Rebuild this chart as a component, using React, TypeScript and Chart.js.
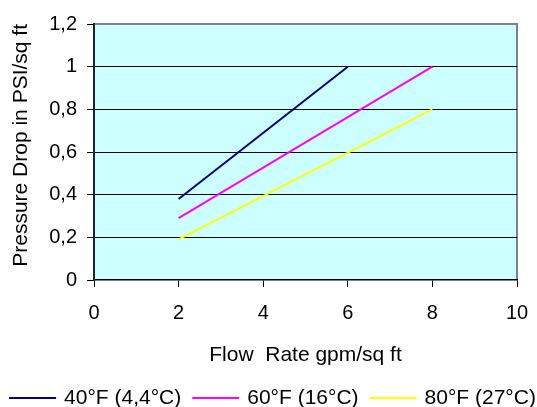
import React, { useEffect, useRef } from "react";
import { Chart, registerables } from "chart.js";

Chart.register(...registerables);

const seriesLabels = ["40°F (4,4°C)", "60°F (16°C)", "80°F (27°C)"];
const seriesColors = ["#000080", "#FF00FF", "#FFFF00"];
const flow40 = [2, 6];
const drop40 = [0.38, 1.0];
const flow60 = [2, 8];
const drop60 = [0.29, 1.0];
const flow80 = [2, 8];
const drop80 = [0.19, 0.8];
const yTickLabels = ["0", "0,2", "0,4", "0,6", "0,8", "1", "1,2"];
const xTickLabels = ["0", "2", "4", "6", "8", "10"];

const FONT = "'Liberation Sans', Arial, sans-serif";

export default function App() {
  const ref = useRef<HTMLCanvasElement | null>(null);

  useEffect(() => {
    if (!ref.current) return;
    const flows = [flow40, flow60, flow80];
    const drops = [drop40, drop60, drop80];

    const plotBg = {
      id: "plotBg",
      beforeDraw(chart: any) {
        const { ctx, chartArea: a } = chart;
        ctx.save();
        ctx.fillStyle = "#CCFFFF";
        ctx.fillRect(a.left, a.top, a.right - a.left, a.bottom - a.top);
        ctx.strokeStyle = "#808080";
        ctx.lineWidth = 2;
        ctx.beginPath();
        ctx.moveTo(a.left, a.top);
        ctx.lineTo(a.right, a.top);
        ctx.lineTo(a.right, a.bottom);
        ctx.stroke();
        ctx.restore();
      },
    };

    const bottomLegend = {
      id: "bottomLegend",
      afterDraw(chart: any) {
        const { ctx } = chart;
        const lineLen = 47;
        const textGap = 8;
        const itemGap = 11;
        const cy = 398;
        ctx.save();
        ctx.font = `21px ${FONT}`;
        ctx.textBaseline = "middle";
        ctx.textAlign = "left";
        const items = chart.data.datasets.map((ds: any) => ({
          text: ds.label,
          color: ds.borderColor,
          w: ctx.measureText(ds.label).width,
        }));
        const total =
          items.reduce((s: number, it: any) => s + lineLen + textGap + it.w, 0) +
          itemGap * (items.length - 1);
        let x = (chart.width - total) / 2 + 4;
        items.forEach((it: any) => {
          ctx.strokeStyle = it.color;
          ctx.lineWidth = 2;
          ctx.beginPath();
          ctx.moveTo(x, cy);
          ctx.lineTo(x + lineLen, cy);
          ctx.stroke();
          ctx.fillStyle = "#000";
          ctx.fillText(it.text, x + lineLen + textGap, cy);
          x += lineLen + textGap + it.w + itemGap;
        });
        ctx.restore();
      },
    };

    const chart = new Chart(ref.current, {
      type: "line",
      data: {
        datasets: seriesLabels.map((label, i) => ({
          label,
          data: flows[i].map((x, j) => ({ x, y: drops[i][j] })),
          borderColor: seriesColors[i],
          backgroundColor: seriesColors[i],
          borderWidth: 2,
          pointRadius: 0,
          fill: false,
          tension: 0,
        })),
      },
      options: {
        animation: false,
        responsive: false,
        events: [],
        layout: { padding: { left: 0, top: 24, right: 20, bottom: 29 } },
        plugins: {
          tooltip: { enabled: false },
          legend: { display: false },
        },
        scales: {
          x: {
            type: "linear",
            min: 0,
            max: 10,
            ticks: {
              stepSize: 2,
              color: "#000",
              font: { family: FONT, size: 20 },
              padding: 14,
              maxRotation: 0,
              callback: (_v: any, i: number) => xTickLabels[i],
            },
            grid: {
              drawOnChartArea: false,
              drawTicks: true,
              tickLength: 7,
              tickColor: "#000",
            },
            border: { display: true, color: "#000", width: 1.5 },
            title: {
              display: true,
              text: "Flow  Rate gpm/sq ft",
              color: "#000",
              font: { family: FONT, size: 21 },
              padding: { top: 0, bottom: 10 },
            },
            afterFit: (s: any) => {
              s.height = 98;
              s.paddingLeft = 12;
              s.paddingRight = 12;
            },
          },
          y: {
            type: "linear",
            min: 0,
            max: 1.2,
            ticks: {
              stepSize: 0.2,
              color: "#000",
              font: { family: FONT, size: 20 },
              padding: 10,
              callback: (_v: any, i: number) => yTickLabels[i],
            },
            grid: {
              color: (c: any) =>
                c.index === 0 || c.index === yTickLabels.length - 1 ? "rgba(0,0,0,0)" : "#000",
              lineWidth: 1,
              drawTicks: true,
              tickLength: 7,
              tickColor: "#000",
            },
            border: { display: true, color: "#222", width: 2 },
            title: {
              display: true,
              text: "Pressure Drop in PSI/sq ft",
              align: "end",
              color: "#000",
              font: { family: FONT, size: 21 },
              padding: { top: 9, bottom: 0 },
            },
            afterFit: (s: any) => {
              s.width = 94;
            },
          },
        },
      },
      plugins: [plotBg, bottomLegend],
    } as any);

    return () => chart.destroy();
  }, []);

  return (
    <div style={{ position: "fixed", left: 0, top: 0, width: 537, height: 407, background: "#fff" }}>
      <canvas ref={ref} width={537} height={407} style={{ display: "block" }} />
    </div>
  );
}
